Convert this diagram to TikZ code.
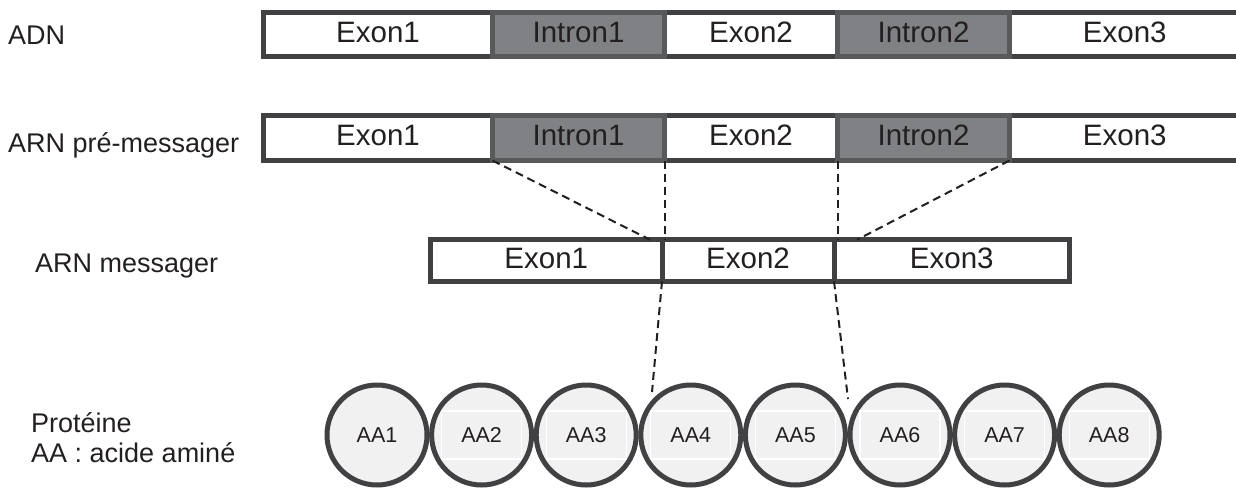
\documentclass[tikz,border=0pt]{standalone}
\usepackage{fontspec}
\setmainfont{Liberation Sans}
\definecolor{barline}{HTML}{414042}
\definecolor{intronfill}{HTML}{808184}
\definecolor{intronline}{HTML}{58595B}
\definecolor{aafill}{HTML}{F1F1F2}
\definecolor{txt}{HTML}{231F20}

\begin{document}
\begin{tikzpicture}[x=1pt, y=-1pt,
    every node/.append style={text=txt},
    seg/.style={draw=barline, line width=5pt, inner sep=0pt, outer sep=0pt,
      text height=20.5pt, text depth=5.5pt, font=\fontsize{29.5}{32}\selectfont},
    exon/.style={seg, fill=white},
    intron/.style={seg, draw=intronline, fill=intronfill},
    lbl/.style={anchor=base west, inner sep=0pt, font=\fontsize{27}{32}\selectfont},
    aa/.style={circle, draw=barline, fill=aafill, line width=5pt, minimum size=100pt,
      inner sep=0pt, font=\fontsize{21.5}{24}\selectfont},
    splice/.style={line width=2pt, txt, dash pattern=on 8pt off 5pt}]
  \useasboundingbox (0,0) rectangle (1236,490);
  % ADN
  \node[exon, minimum width=229pt, minimum height=44pt] (d1) at (378,34.5) {Exon1};
  \node[exon, minimum width=173pt, minimum height=44pt] (d2) at (751,34.5) {Exon2};
  \node[exon, minimum width=230.5pt, minimum height=44pt] (d3) at (1124.75,34.5) {Exon3};
  \node[intron, minimum width=172pt, minimum height=44pt] (di1) at (578.5,34.5) {Intron1};
  \node[intron, minimum width=172pt, minimum height=44pt] (di2) at (923.5,34.5) {Intron2};
  % ARN pre-messager
  \node[exon, minimum width=229pt, minimum height=45pt] (p1) at (378,138) {Exon1};
  \node[exon, minimum width=173pt, minimum height=45pt] (p2) at (751,138) {Exon2};
  \node[exon, minimum width=230.5pt, minimum height=45pt] (p3) at (1124.75,138) {Exon3};
  \node[intron, minimum width=172pt, minimum height=45pt] (pi1) at (578.5,138) {Intron1};
  \node[intron, minimum width=172pt, minimum height=45pt] (pi2) at (923.5,138) {Intron2};
  % ARN messager
  \node[exon, minimum width=231.5pt, minimum height=41.5pt] (m1) at (546.25,260.5) {Exon1};
  \node[exon, minimum width=172pt, minimum height=41.5pt] (m2) at (748,260.5) {Exon2};
  \node[exon, minimum width=235.5pt, minimum height=41.5pt] (m3) at (951.75,260.5) {Exon3};
  % Epissage
  \draw[splice] (pi1.south west) -- ([xshift=-12pt]m1.north east);
  \draw[splice] (pi1.south east) -- (pi1.south east |- m1.north);
  \draw[splice] (pi2.south west) -- (pi2.south west |- m2.north);
  \draw[splice] (pi2.south east) -- ([xshift=23pt]m2.north east);
  % Proteine
  \foreach \i in {1,...,8}
    \node[aa] (aa\i) at ({377+104.6*(\i-1)},435) {AA\i};
  \foreach \i in {2,...,8}
    \draw[white, line width=1.2pt] ([shift={(-40pt,-24pt)}]aa\i.center)
      rectangle ([shift={(40pt,24pt)}]aa\i.center);
  % Traduction
  \coordinate (c1) at (652,392);
  \coordinate (c2) at (848,399);
  \draw[splice] (m1.south east) -- (c1);
  \draw[splice] (m2.south east) -- (c2);
  % Labels
  \node[lbl] (adn) at (8,44) {ADN};
  \node[lbl] (pre) at (8,152) {ARN pré-messager};
  \node[lbl] (arnm) at (35,272) {ARN messager};
  \node[lbl] (prot) at (31,432) {Protéine};
  \node[lbl] (key) at (31,462) {AA : acide aminé};
\end{tikzpicture}
\end{document}
